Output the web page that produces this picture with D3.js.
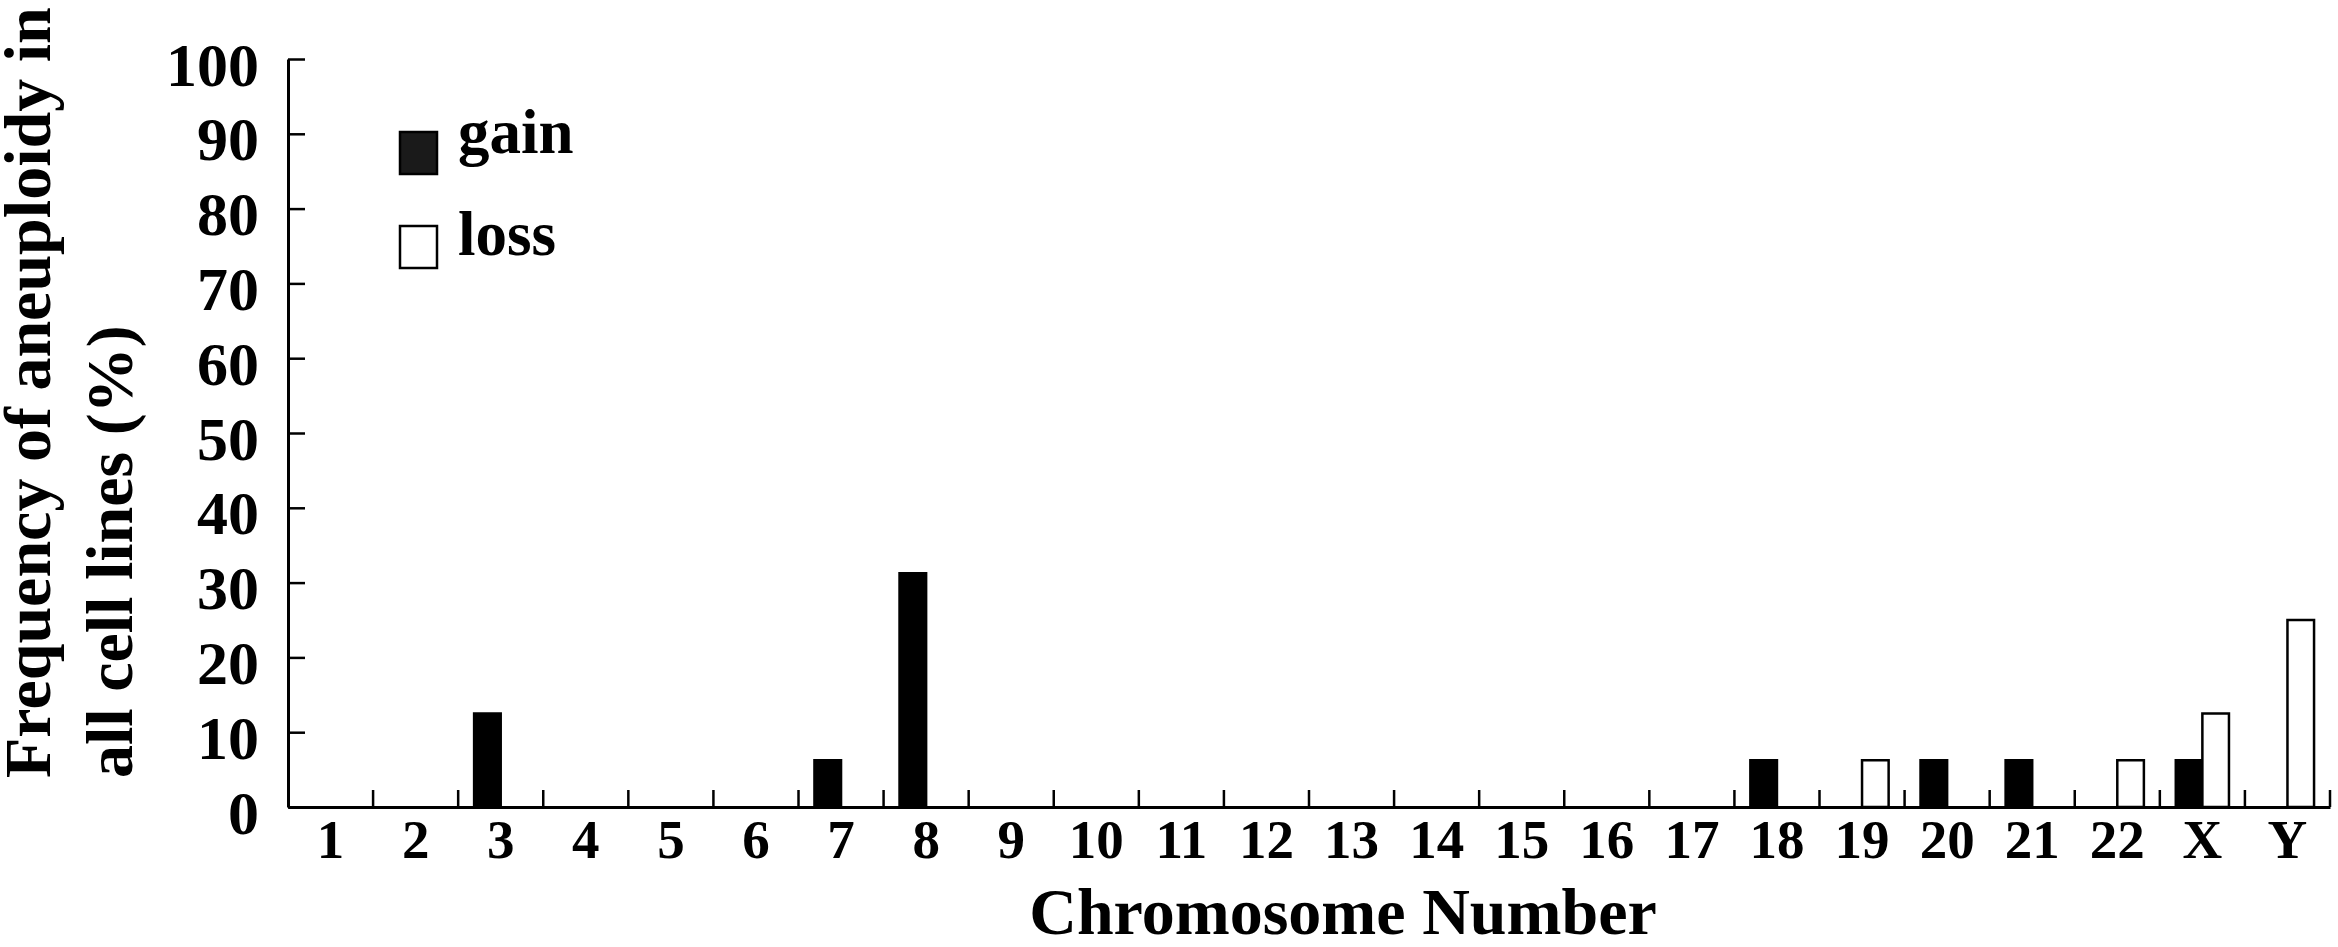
<!DOCTYPE html>
<html>
<head>
<meta charset="utf-8">
<script src="https://cdn.jsdelivr.net/npm/d3@7"></script>
<style>
  body { margin: 0; background: #fff; }
  svg text { font-family: "Times New Roman", "Liberation Serif", serif; font-weight: bold; fill: #000; }
</style>
</head>
<body>
<div id="vis"></div>
<script>

var chromosomes = ['1', '2', '3', '4', '5', '6', '7', '8', '9', '10', '11', '12',
  '13', '14', '15', '16', '17', '18', '19', '20', '21', '22', 'X', 'Y'];

// percent of cell lines
var gainValues = [0, 0, 12.5, 0, 0, 0, 6.25, 31.25, 0, 0, 0, 0,
  0, 0, 0, 0, 0, 6.25, 0, 6.25, 6.25, 0, 6.25, 0];
var lossValues = [0, 0, 0, 0, 0, 0, 0, 0, 0, 0, 0, 0,
  0, 0, 0, 0, 0, 0, 6.25, 0, 0, 6.25, 12.5, 25];

var seriesNames = ['gain', 'loss'];
var yTicks = [0, 10, 20, 30, 40, 50, 60, 70, 80, 90, 100];

var width = 2338;
var height = 947;
// plot area edges (window.top is reserved, so no bare "top")
var plotLeft = 288, plotRight = 2330, plotTop = 59, plotBottom = 807;

var svg = d3.select('#vis')
  .append('svg')
  .attr('width', width)
  .attr('height', height);

svg.append('rect')
  .attr('width', width)
  .attr('height', height)
  .attr('fill', '#fff');

var x = d3.scaleBand()
  .domain(chromosomes)
  .range([plotLeft, plotRight])
  .padding(0);

var xSeries = d3.scaleBand()
  .domain(seriesNames)
  .range([0, x.bandwidth()])
  .paddingInner(0)
  .paddingOuter(0.6);

var y = d3.scaleLinear()
  .domain([0, 100])
  .range([plotBottom, plotTop]);

var fillColor = d3.scaleOrdinal()
  .domain(seriesNames)
  .range(['#000', '#fff']);

var rows = chromosomes.map(function (c, i) {
  return { chrom: c, gain: gainValues[i], loss: lossValues[i] };
});

// bars
var groups = svg.selectAll('.chrom')
  .data(rows)
  .enter().append('g')
  .attr('class', 'chrom')
  .attr('transform', function (d) { return 'translate(' + x(d.chrom) + ',0)'; });

groups.selectAll('rect')
  .data(function (d) {
    return seriesNames.map(function (s) { return { key: s, value: d[s] }; })
      .filter(function (e) { return e.value > 0; });
  })
  .enter().append('rect')
  .attr('x', function (d) { return xSeries(d.key); })
  .attr('width', xSeries.bandwidth())
  .attr('y', function (d) { return y(d.value); })
  .attr('height', function (d) { return y(0) - y(d.value); })
  .attr('fill', function (d) { return fillColor(d.key); })
  .attr('stroke', '#000')
  .attr('stroke-width', 2.5);

// y axis, ticks pointing into the plot
var yAxis = svg.append('g')
  .attr('transform', 'translate(' + plotLeft + ',0)')
  .call(d3.axisLeft(y).tickValues(yTicks).tickSizeInner(-17).tickSizeOuter(0).tickPadding(29));

yAxis.select('.domain').attr('stroke', '#000').attr('stroke-width', 3);
yAxis.selectAll('.tick line').attr('stroke', '#000').attr('stroke-width', 2.5);
yAxis.selectAll('.tick text')
  .attr('dy', '0.42em')
  .style('font-size', '62px');

// x axis: labels at band centres, tick marks at band edges
var xAxis = svg.append('g')
  .attr('transform', 'translate(0,' + plotBottom + ')')
  .call(d3.axisBottom(x).tickSize(0).tickSizeOuter(0));

xAxis.select('.domain').attr('stroke', '#000').attr('stroke-width', 3);
xAxis.selectAll('.tick text')
  .attr('y', 51)
  .attr('dy', 0)
  .style('font-size', '55px');

xAxis.selectAll('.edge')
  .data(chromosomes)
  .enter().append('line')
  .attr('class', 'edge')
  .attr('x1', function (d) { return x(d) + x.bandwidth(); })
  .attr('x2', function (d) { return x(d) + x.bandwidth(); })
  .attr('y1', 0)
  .attr('y2', -17)
  .attr('stroke', '#000')
  .attr('stroke-width', 2.5);

// axis titles
svg.append('text')
  .attr('x', 1343)
  .attr('y', 934)
  .attr('text-anchor', 'middle')
  .style('font-size', '66px')
  .text('Chromosome Number');

var yTitle = svg.append('text')
  .attr('transform', 'rotate(-90)')
  .attr('text-anchor', 'start')
  .style('font-size', '66px');

yTitle.append('tspan')
  .attr('x', -778)
  .attr('y', 50)
  .text('Frequency of aneuploidy in');

yTitle.append('tspan')
  .attr('x', -778)
  .attr('y', 132)
  .text('all cell lines (%)');

// legend
var legend = svg.selectAll('.legend')
  .data(seriesNames)
  .enter().append('g')
  .attr('class', 'legend')
  .attr('transform', function (d, i) { return 'translate(400,' + (132 + i * 94) + ')'; });

legend.append('rect')
  .attr('width', 37)
  .attr('height', 42)
  .attr('fill', function (d) { return d === 'gain' ? '#1a1a1a' : '#fff'; })
  .attr('stroke', '#000')
  .attr('stroke-width', 2.5);

legend.append('text')
  .attr('x', 58)
  .attr('y', function (d, i) { return i === 0 ? 21 : 29; })
  .style('font-size', '63px')
  .text(function (d) { return d; });

</script>
</body>
</html>
